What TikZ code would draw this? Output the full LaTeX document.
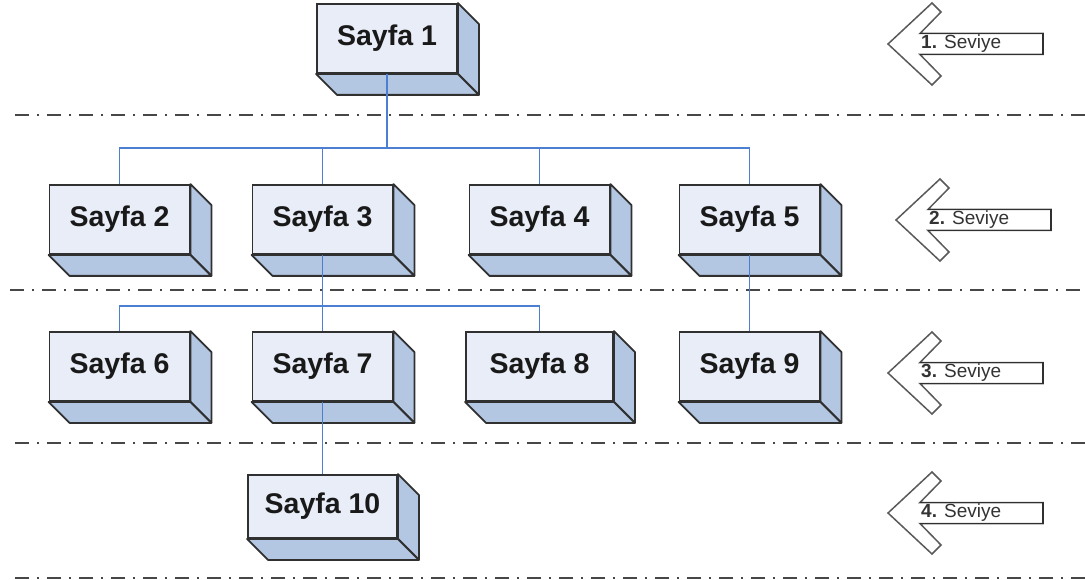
\documentclass[tikz,border=0pt]{standalone}
\usepackage{fontspec}
\setmainfont{Liberation Sans}
\usetikzlibrary{positioning}
\usepackage{xcolor}
\definecolor{onyuz}{HTML}{E8EDF7}
\definecolor{yanyuz}{HTML}{B3C6E2}
\definecolor{hat}{HTML}{4C7FD2}
\definecolor{kenar}{HTML}{303030}

\begin{document}
\begin{tikzpicture}[x=1pt, y=-1pt,
		sayfa/.style={draw=kenar, line width=1.8pt, fill=onyuz, minimum width=140pt, minimum height=69pt, inner sep=0pt, font=\fontsize{28.5}{32}\selectfont\bfseries, text=black!90},
		yuz/.style={draw=kenar, line width=1.8pt, fill=yanyuz, line join=round},
		baglanti/.style={hat, line width=1.9pt},
		ayrac/.style={black!72, line width=2.4pt, dash pattern=on 14pt off 8pt on 2pt off 8pt},
		okucu/.style={black!65, line width=1.5pt},
		etiket/.style={anchor=west, inner sep=0pt, font=\fontsize{19}{21}\selectfont, text=black!80}]
		\useasboundingbox (0,0) rectangle (1085,580);
		% seviye ayraclari
		\draw[ayrac] (15,115) -- (1085,115);
		\draw[ayrac] (10,290) -- (1085,290);
		\draw[ayrac] (15,443) -- (1085,443);
		\draw[ayrac] (15,578) -- (1085,578);
		% sayfalar
		\node[sayfa] (s1) at (387,38.5) {Sayfa 1};
		\node[sayfa] (s2) at (119.5,219.5) {Sayfa 2};
		\node[sayfa] (s3) at (322.5,219.5) {Sayfa 3};
		\node[sayfa] (s4) at (539.5,219.5) {Sayfa 4};
		\node[sayfa] (s5) at (749.5,219.5) {Sayfa 5};
		\node[sayfa] (s6) at (119.5,366.5) {Sayfa 6};
		\node[sayfa] (s7) at (322.5,366.5) {Sayfa 7};
		\node[sayfa, minimum width=147pt] (s8) at (539.5,366.5) {Sayfa 8};
		\node[sayfa] (s9) at (749.5,366.5) {Sayfa 9};
		\node[sayfa, minimum width=149pt, minimum height=63pt] (s10) at (322.5,506.5) {Sayfa 10};
		\foreach \i in {1,...,10} {
			\filldraw[yuz] (s\i.north east) -- ++(21,21) -- ([shift={(21,21)}]s\i.south east) -- (s\i.south east) -- cycle;
			\filldraw[yuz] (s\i.south west) -- ++(21,21) -- ([shift={(21,21)}]s\i.south east) -- (s\i.south east) -- cycle;
		}
		% baglantilar
		\coordinate (bus1) at (0,148);
		\coordinate (bus2) at (0,306);
		\foreach \c in {s2,s3,s4,s5}
			\draw[baglanti] (s1.south) -- (s1.south |- bus1) -| (\c.north);
		\foreach \c in {s6,s7,s8}
			\draw[baglanti] (s3.south) -- (s3.south |- bus2) -| (\c.north);
		\draw[baglanti] (s5.south) -- (s9.north);
		\draw[baglanti] (s7.south) -- (s10.north);
		% seviye oklari
		\foreach \x/\y/\n in {888/44/1, 896/220/2, 888/373/3, 888/513/4} {
			\draw[okucu] (\x,\y) -- ++(44,-41) -- ++(9,9) -- ++(-21,21.5) -- ++(123,0) -- ++(0,21) -- ++(-123,0) -- ++(21,21.5) -- ++(-9,9) -- cycle;
			\draw[kenar, line width=1.6pt] (\x+32,\y-10.5) -| (\x+155,\y+10.5) -- (\x+32,\y+10.5);
			\node[etiket] (sev\n) at (\x+33,\y) {\textbf{\n.} Seviye};
		}
	\end{tikzpicture}
\end{document}
